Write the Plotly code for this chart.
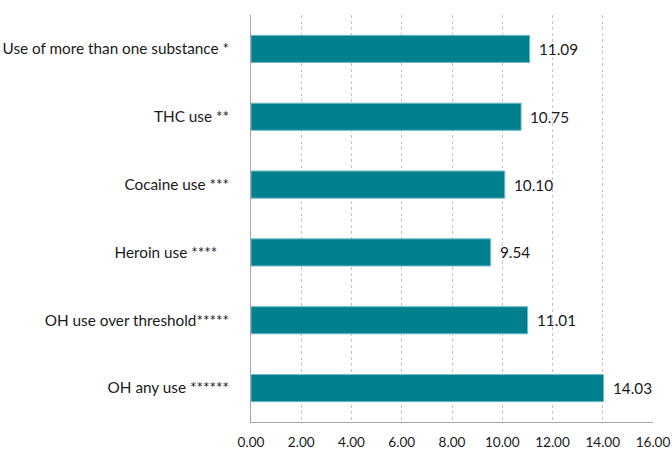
import plotly.graph_objects as go

# Mean scores by substance-use group
categories = [
    "Use of more than one substance *",
    "THC use **",
    "Cocaine use ***",
    "Heroin use ****\u00a0\u00a0\u00a0",
    "OH use over threshold*****",
    "OH any use ******",
]
values = [11.09, 10.75, 10.10, 9.54, 11.01, 14.03]
x_ticks = [0, 2, 4, 6, 8, 10, 12, 14, 16]
x_tick_labels = ["%.2f" % t for t in x_ticks]

FONT = "Lato, 'Open Sans', sans-serif"
LABEL_SIZE = 15.3
TICK_SIZE = 13.6
TEXT_COLOR = "#1a1a1a"
BAR_COLOR = "#007f8f"

fig = go.Figure()
fig.add_trace(go.Bar(
    y=categories,
    x=values,
    orientation="h",
    width=0.4,
    marker=dict(color=BAR_COLOR, line=dict(color="#6fbcc6", width=1)),
    hoverinfo="x+y",
))

# Value labels just beyond each bar end
for cat, val in zip(categories, values):
    fig.add_annotation(
        x=val, y=cat, text="%.2f" % val,
        xanchor="left", yanchor="middle", xshift=7,
        showarrow=False, font=dict(family=FONT, size=LABEL_SIZE, color=TEXT_COLOR),
    )

fig.update_layout(
    width=672, height=453,
    margin=dict(l=251, r=19, t=15, b=31),
    paper_bgcolor="white", plot_bgcolor="white",
    showlegend=False,
    font=dict(family=FONT, size=LABEL_SIZE, color=TEXT_COLOR),
)
fig.update_xaxes(
    range=[0, 16], automargin=False,
    tickvals=x_ticks, ticktext=x_tick_labels,
    showgrid=True, gridcolor="#c4c4c4", griddash="3px,3px", gridwidth=1,
    zeroline=False,
    showline=True, linecolor="#a6a6a6", linewidth=1,
    ticks="", ticklabelstandoff=8,
    tickfont=dict(family=FONT, size=TICK_SIZE, color=TEXT_COLOR),
)
fig.update_yaxes(
    categoryorder="array", categoryarray=categories[::-1],
    automargin=False,
    showgrid=False, zeroline=False,
    showline=True, linecolor="#a6a6a6", linewidth=1,
    ticks="", ticklabelstandoff=18,
    tickfont=dict(family=FONT, size=LABEL_SIZE, color=TEXT_COLOR),
)

fig.write_html("out.html")
